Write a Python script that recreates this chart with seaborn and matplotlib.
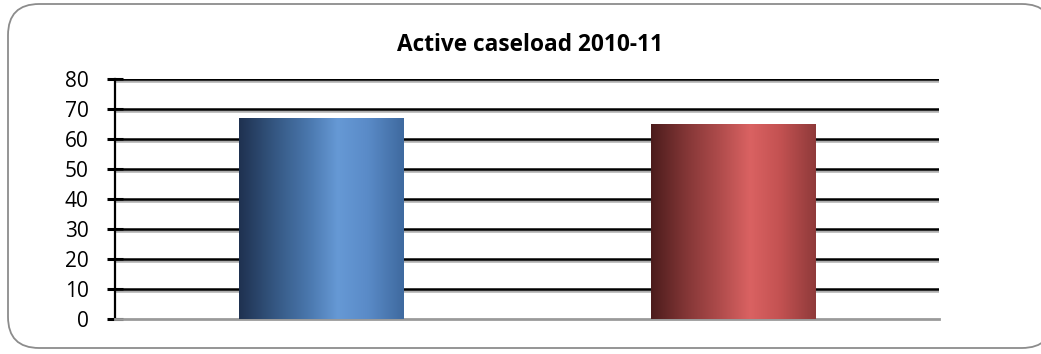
import numpy as np
import pandas as pd
import matplotlib
matplotlib.use("Agg")
import matplotlib.pyplot as plt
import matplotlib.patheffects as pe
from matplotlib.colors import LinearSegmentedColormap
from matplotlib.patches import FancyBboxPatch
import seaborn as sns

# Chart data
categories = ["A", "B"]
values = [67, 65]
title = "Active caseload 2010-11"
y_ticks = [0, 10, 20, 30, 40, 50, 60, 70, 80]

# Horizontal shading for each bar (dark edge -> highlight -> darker edge)
bar_gradients = [
    ["#1f3150", "#355883", "#4a77ad", "#6699d5", "#5a8bc8", "#3f6a9f"],
    ["#4c1c1c", "#853737", "#b04c4c", "#da6262", "#c45252", "#8f3a3a"],
]
gradient_stops = [0.0, 0.22, 0.42, 0.6, 0.78, 1.0]

sns.set_theme(style="white")
plt.rcParams["font.family"] = ["Open Sans", "DejaVu Sans"]

W, H, DPI = 1041, 354, 100
fig = plt.figure(figsize=(W / DPI, H / DPI), dpi=DPI)

# Rounded chart frame, kept behind the axes
frame = FancyBboxPatch((8 / W, 6 / H), 1045 / W, 344 / H,
                       boxstyle="round,pad=0,rounding_size=0.03",
                       transform=fig.transFigure, facecolor="white",
                       edgecolor="#8c8c8c", linewidth=1.3,
                       mutation_aspect=W / H, zorder=-10)
fig.patches.append(frame)

ax = fig.add_axes([115 / W, 1 - 319 / H, (939 - 115) / W, (319 - 79) / H])
ax.set_zorder(1)
ax.patch.set_alpha(0)

df = pd.DataFrame({"category": categories, "value": values})
sns.barplot(data=df, x="category", y="value", ax=ax, width=0.4,
            color="#4f81bd", saturation=1, zorder=3)

ax.set_ylim(0, 80)
ax.set_xlim(-0.5, len(categories) - 0.5)
ax.set_yticks(y_ticks)
ax.set_yticklabels([str(t) for t in y_ticks], fontsize=15, color="black")
ax.set_xticks([])
ax.set_xlabel("")
ax.set_ylabel("")

# Gridlines with a soft shadow beneath
shadow = [pe.SimpleLineShadow(offset=(0, -1.2), shadow_color="#9a9a9a", alpha=0.8),
          pe.Normal()]
for t in y_ticks[1:]:
    ax.axhline(t, color="black", linewidth=1.8, zorder=1, path_effects=shadow)

# Spines
for side in ["top", "right"]:
    ax.spines[side].set_visible(False)
ax.spines["left"].set_color("black")
ax.spines["left"].set_linewidth(1.6)
ax.spines["bottom"].set_color("#9a9a9a")
ax.spines["bottom"].set_linewidth(2.0)
ax.tick_params(axis="y", direction="inout", length=12, width=2.2,
               color="black", pad=13, left=True)

# Shade each bar with its gradient, clipped to the bar shape
for patch, cols in zip(ax.patches, bar_gradients):
    cmap = LinearSegmentedColormap.from_list("g", list(zip(gradient_stops, cols)))
    x0, y0 = patch.get_x(), patch.get_y()
    w, h = patch.get_width(), patch.get_height()
    grad = np.linspace(0, 1, 256).reshape(1, -1)
    im = ax.imshow(grad, cmap=cmap, aspect="auto", extent=(x0, x0 + w, y0, y0 + h),
                   zorder=4, interpolation="bicubic")
    im.set_clip_path(patch)
    patch.set_edgecolor("none")
ax.set_xlim(-0.5, len(categories) - 0.5)
ax.set_ylim(0, 80)

fig.text(530 / W, 1 - 45 / H, title, ha="center", va="center",
         fontsize=16.3, fontweight="bold", color="black")

fig.savefig("out.png", dpi=DPI)
